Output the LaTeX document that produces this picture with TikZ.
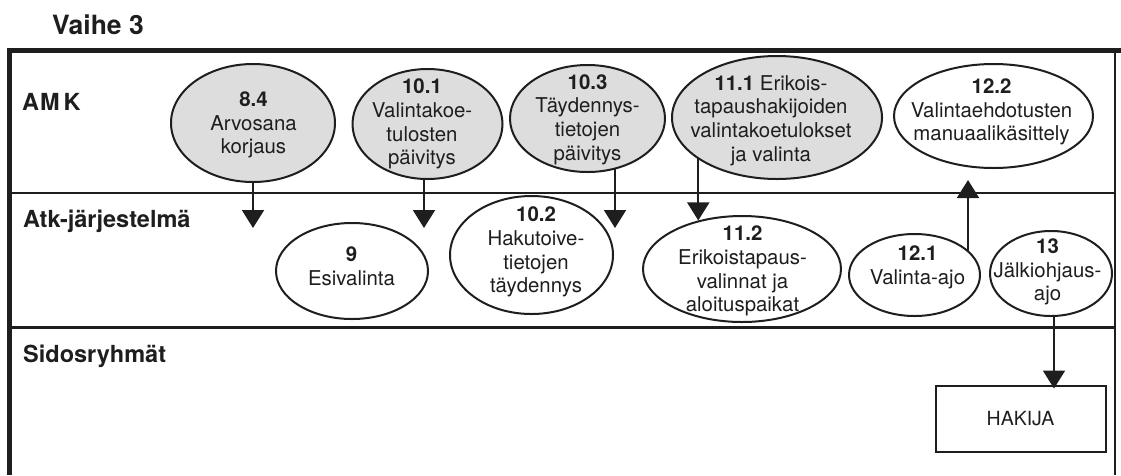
\documentclass[tikz,border=0pt]{standalone}
\usepackage{fontspec}
\setmainfont{TeX Gyre Heros}
\usetikzlibrary{arrows.meta,shapes.geometric,backgrounds}
\definecolor{ink}{RGB}{30,30,30}
\definecolor{procgray}{RGB}{221,221,221}
\begin{document}
\begin{tikzpicture}[x=1pt,y=-1pt,
  proc/.style={ellipse, draw=ink, line width=2pt, inner sep=0pt},
  gproc/.style={proc, fill=procgray},
  wproc/.style={proc, fill=white},
  ptext/.style={align=center, text=ink, font=\fontsize{20.4}{23.7}\selectfont, inner sep=0pt},
  lanelabel/.style={font=\fontsize{23.5}{28}\selectfont\bfseries, text=ink, anchor=base west, inner sep=0pt},
  arr/.style={draw=ink, line width=2pt, -{Triangle[width=22pt,length=18pt]}},
  frame/.style={draw=ink},
]
\useasboundingbox (0,0) rectangle (1121,475);

% title
\node[font=\fontsize{26.5}{30}\selectfont\bfseries, text=ink, anchor=base west, inner sep=0pt] (title) at (52,34) {Vaihe 3};

% frame and lanes
\draw[frame, line width=5pt] (7,50.5) -- (1121,50.5);
\draw[frame, line width=5pt] (9.5,48) -- (9.5,475);
\draw[frame, line width=2pt] (1115,50) -- (1115,475);
\draw[frame, line width=2.5pt] (9.5,193) -- (1115,193);
\draw[frame, line width=3pt] (9.5,327) -- (1115,327);

% lane labels
\node[lanelabel] (amk) at (22,110) {A\kern1pt M\kern4pt K};
\node[lanelabel] (atk) at (23,227) {Atk-järjestelmä};
\node[lanelabel] (sidos) at (23,362) {Sidosryhmät};

% AMK processes
\node[gproc, minimum width=164pt, minimum height=118pt] (e84) at (253,123) {};
\node[ptext] (e84t) at (253.5,125) {\textbf{8.4}\\Arvosana\\korjaus};

\node[gproc, minimum width=150pt, minimum height=110pt] (e101) at (427.5,124) {};
\node[ptext] (e101t) at (422,124) {\textbf{10.1}\\Valintakoe-\\tulosten\\päivitys};

\node[gproc, minimum width=155pt, minimum height=107pt] (e103) at (587.5,118.5) {};
\node[ptext] (e103t) at (587.5,119.5) {\textbf{10.3}\\Täydennys-\\tietojen\\päivitys};

\node[gproc, minimum width=210pt, minimum height=123pt] (e111) at (777,117.5) {};
\node[ptext] (e111t) at (771,120.5) {\textbf{11.1} Erikois-\\tapaushakijoiden\\valintakoetulokset\\ja valinta};

\node[wproc, minimum width=199pt, minimum height=104pt] (e122) at (993.5,116) {};
\node[ptext] (e122t) at (991.5,112) {\textbf{12.2}\\Valintaehdotusten\\manuaalikäsittely};

% Atk processes
\node[wproc, minimum width=152pt, minimum height=96pt] (e9) at (352,271) {};
\node[ptext] (e9t) at (351.5,266.5) {\textbf{9}\\Esivalinta};

\node[wproc, minimum width=163pt, minimum height=118pt] (e102) at (531.5,255) {};
\node[ptext] (e102t) at (536,252) {\textbf{10.2}\\Hakutoive-\\tietojen\\täydennys};

\node[wproc, minimum width=198pt, minimum height=106pt] (e112) at (742,269) {};
\node[ptext] (e112t) at (742.5,271) {\textbf{11.2}\\Erikoistapaus-\\valinnat ja\\aloituspaikat};

\node[wproc, minimum width=131pt, minimum height=82pt] (e121) at (914.5,275) {};
\node[ptext] (e121t) at (917.5,267.5) {\textbf{12.1}\\Valinta-ajo};

\node[wproc, minimum width=122pt, minimum height=85pt] (e13) at (1051,273.5) {};
\node[ptext] (e13t) at (1047.5,272) {\textbf{13}\\Jälkiohjaus-\\ajo};

% Sidosryhmät
\node[draw=ink, line width=2pt, minimum width=170pt, minimum height=66pt, inner sep=0pt, text=ink,
      font=\fontsize{19.5}{23}\selectfont] (hakija) at (1020.5,418.5) {HAKIJA};

% free arrow ends
\coordinate (t84) at (253,228);
\coordinate (t101) at (424,228);
\coordinate (t103) at (615,228);
\coordinate (t121) at (968,180);
\coordinate (c13) at (1054,0);

\begin{pgfonlayer}{background}
\draw[arr] (t84 |- e84.center) -- (t84);
\draw[arr] (t101 |- e101.center) -- (t101);
\draw[arr] (t103 |- e103.center) -- (t103);
\draw[arr] (e111.center -| e112.132) -- (e112.132);
\draw[arr] (t121 |- e121.center) -- (t121);
\draw[arr, shorten >=-4pt] (e13.center -| c13) -- (hakija.north -| c13);
\end{pgfonlayer}
\end{tikzpicture}
\end{document}
